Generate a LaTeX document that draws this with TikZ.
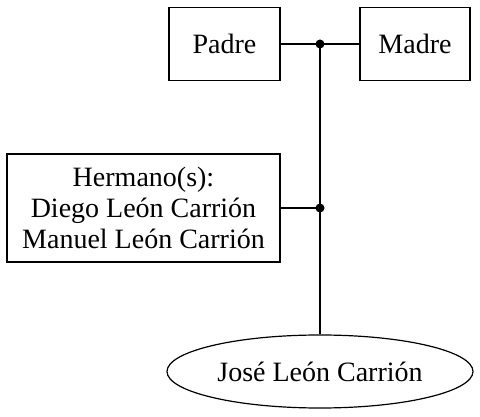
\documentclass[tikz,border=0pt]{standalone}
\usepackage{fontspec}
\setmainfont{Liberation Serif}
\usepackage{tikz}
\usetikzlibrary{positioning,shapes}

\begin{document}
\begin{tikzpicture}
        [
            x=1pt, y=-1pt,
            line width=1.2pt,
            cajanode/.style={rectangle, draw=black, inner sep=0pt, align=center, font=\fontsize{28}{31}\selectfont},
            elipsenode/.style={ellipse, draw=black, inner sep=0pt, minimum width=306pt, minimum height=73pt, font=\fontsize{28}{31}\selectfont},
            punto/.style={circle, fill=black, inner sep=0pt, minimum size=9pt},
        ]
        \useasboundingbox (0,0) rectangle (480,417);

        %Nodos
        \node[cajanode, minimum width=111pt, minimum height=73pt]   (padre)     at (224.5,44)   {Padre};
        \node[cajanode, minimum width=110pt, minimum height=73pt]   (madre)     at (415,44)     {Madre};
        \node[cajanode, minimum width=273pt, minimum height=108pt]  (hermanos)  at (143.5,208)  {Hermano(s):\\Diego León Carrión\\Manuel León Carrión};
        \node[elipsenode]                                           (jose)      at (320,371.5)  {José León Carrión};
        \node[punto]    (unionpadres)       at (320,44)     {};
        \node[punto]    (unionhermanos)     at (320,208)    {};

        %Lineas
        \draw (padre.east) -- (unionpadres.center);
        \draw (unionpadres.center) -- (madre.west);
        \draw (hermanos.east) -- (unionhermanos.center);
        \draw (unionpadres.center) -- (unionhermanos.center);
        \draw (unionhermanos.center) -- (jose.north);
    \end{tikzpicture}
\end{document}
